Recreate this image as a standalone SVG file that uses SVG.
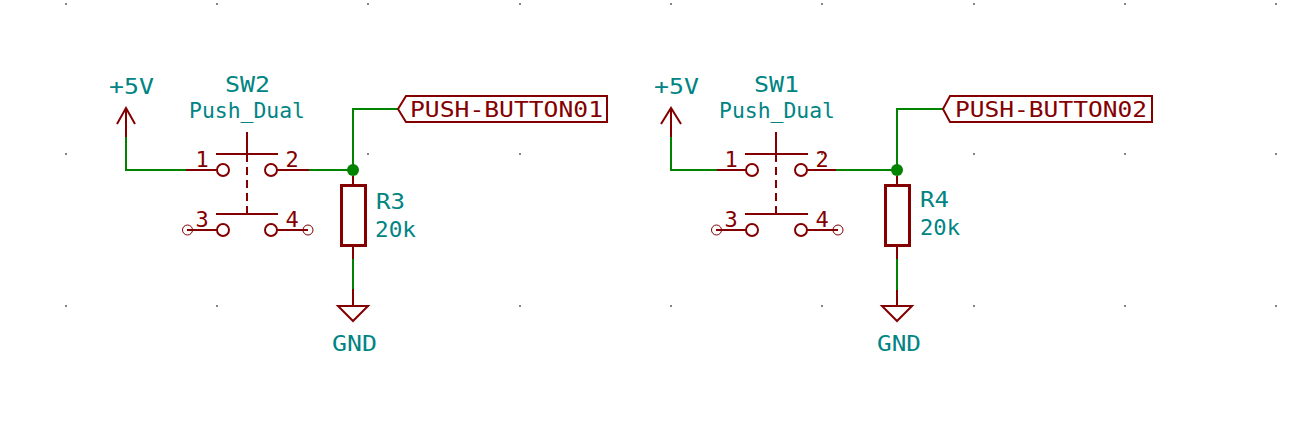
<svg xmlns="http://www.w3.org/2000/svg" width="1304" height="426" viewBox="0 0 1304 426">
<style>
text{font-family:"DejaVu Sans Mono","Liberation Mono",monospace;font-size:22px}
.t{fill:#008484}
.r{fill:#840000}
.m{text-anchor:middle}
.l{fill:none;stroke:#840000;stroke-width:2;shape-rendering:crispEdges}
.g{fill:none;stroke:#840000;stroke-width:2}
.thin{fill:none;stroke:#840000;stroke-width:1}
.b{fill:none;stroke:#840000;stroke-width:3;shape-rendering:crispEdges}
.w{fill:none;stroke:#008400;stroke-width:2;shape-rendering:crispEdges}
.d{stroke-dasharray:8 5}
.dot{fill:#848484}
</style>
<rect width="1304" height="426" fill="#ffffff"/>
<g id="grid" class="dot">
<rect x="65" y="3" width="2" height="2"/><rect x="216" y="3" width="2" height="2"/><rect x="367" y="3" width="2" height="2"/><rect x="519" y="3" width="2" height="2"/><rect x="670" y="3" width="2" height="2"/><rect x="821" y="3" width="2" height="2"/><rect x="973" y="3" width="2" height="2"/><rect x="1124" y="3" width="2" height="2"/><rect x="1275" y="3" width="2" height="2"/>
<rect x="65" y="153" width="2" height="2"/><rect x="216" y="153" width="2" height="2"/><rect x="367" y="153" width="2" height="2"/><rect x="519" y="153" width="2" height="2"/><rect x="670" y="153" width="2" height="2"/><rect x="821" y="153" width="2" height="2"/><rect x="973" y="153" width="2" height="2"/><rect x="1124" y="153" width="2" height="2"/><rect x="1275" y="153" width="2" height="2"/>
<rect x="65" y="305" width="2" height="2"/><rect x="216" y="305" width="2" height="2"/><rect x="367" y="305" width="2" height="2"/><rect x="519" y="305" width="2" height="2"/><rect x="670" y="305" width="2" height="2"/><rect x="821" y="305" width="2" height="2"/><rect x="973" y="305" width="2" height="2"/><rect x="1124" y="305" width="2" height="2"/><rect x="1275" y="305" width="2" height="2"/>
</g>
<g id="connectors">
<path class="w" d="M126 137V170H186"/>
<path class="w" d="M309 170H353"/>
<path class="w" d="M398 109H353V170"/>
<path class="w" d="M353 259V289"/>
<path class="w" d="M671 137V170H717"/>
<path class="w" d="M836 170H897"/>
<path class="w" d="M943 109H897V170"/>
<path class="w" d="M897 259V290"/>
<circle cx="353" cy="170" r="6" fill="#008400"/>
<circle cx="897" cy="170" r="6" fill="#008400"/>
</g>
<g id="pwr-5v-1">
<path class="l" d="M126 137V108"/><path class="g" d="M117 124L126 108L135 124"/>
<text class="t" x="109" y="94" textLength="45" lengthAdjust="spacingAndGlyphs">+5V</text>
</g>
<g id="pwr-5v-2">
<path class="l" d="M671 137V108"/><path class="g" d="M661 124L671 108L681 124"/>
<text class="t" x="654" y="94" textLength="45" lengthAdjust="spacingAndGlyphs">+5V</text>
</g>
<g id="SW2">
<text class="t" x="225" y="92" textLength="45" lengthAdjust="spacingAndGlyphs">SW2</text>
<text class="t" x="189" y="118" textLength="116" lengthAdjust="spacingAndGlyphs">Push_Dual</text>
<path class="l" d="M186 170H217M277 170H309M187 230H217M277 230H308M216 154H278M216 214H278M247 132V154"/>
<path class="l d" d="M247 154V214"/>
<circle class="g" cx="223" cy="170" r="6"/><circle class="g" cx="271" cy="170" r="6"/><circle class="g" cx="223" cy="230" r="6"/><circle class="g" cx="271" cy="230" r="6"/>
<circle class="thin" cx="187.500" cy="230" r="5"/><circle class="thin" cx="308" cy="230" r="5"/>
<text class="r m" x="202" y="167">1</text><text class="r m" x="292" y="167">2</text><text class="r m" x="202" y="227">3</text><text class="r m" x="292" y="227">4</text>
</g>
<g id="SW1">
<text class="t" x="754" y="92" textLength="45" lengthAdjust="spacingAndGlyphs">SW1</text>
<text class="t" x="719" y="118" textLength="116" lengthAdjust="spacingAndGlyphs">Push_Dual</text>
<path class="l" d="M717 170H746M807 170H836M716 230H746M807 230H838M745 154H808M745 214H808M776 132V154"/>
<path class="l d" d="M776 154V214"/>
<circle class="g" cx="752" cy="170" r="6"/><circle class="g" cx="801" cy="170" r="6"/><circle class="g" cx="752" cy="230" r="6"/><circle class="g" cx="801" cy="230" r="6"/>
<circle class="thin" cx="716.500" cy="230" r="5"/><circle class="thin" cx="838" cy="230" r="5"/>
<text class="r m" x="731" y="167">1</text><text class="r m" x="822" y="167">2</text><text class="r m" x="731" y="227">3</text><text class="r m" x="822" y="227">4</text>
</g>
<g id="R3">
<path class="l" d="M353 176V185M353 246V259"/><rect class="b" x="341.500" y="185" width="24" height="60"/>
<text class="t" x="376" y="209" textLength="29" lengthAdjust="spacingAndGlyphs">R3</text>
<text class="t" x="375" y="237" textLength="41" lengthAdjust="spacingAndGlyphs">20k</text>
</g>
<g id="R4">
<path class="l" d="M897 176V185M897 246V259"/><rect class="b" x="885.500" y="185" width="24" height="60"/>
<text class="t" x="920" y="207" textLength="29" lengthAdjust="spacingAndGlyphs">R4</text>
<text class="t" x="920" y="235" textLength="40" lengthAdjust="spacingAndGlyphs">20k</text>
</g>
<g id="gnd-1">
<path class="l" d="M353 289V306"/><path class="g" d="M338 306H368L353 321Z"/>
<text class="t" x="332" y="351" textLength="45" lengthAdjust="spacingAndGlyphs">GND</text>
</g>
<g id="gnd-2">
<path class="l" d="M897 290V306"/><path class="g" d="M882 306H912L897 321Z"/>
<text class="t" x="877" y="351" textLength="44" lengthAdjust="spacingAndGlyphs">GND</text>
</g>
<g id="label-push-button01">
<path class="g" d="M398 109L406 96H607V122H406Z"/>
<text class="r" x="410" y="117" textLength="193" lengthAdjust="spacingAndGlyphs">PUSH-BUTTON01</text>
</g>
<g id="label-push-button02">
<path class="g" d="M943 109L950 96H1152V122H950Z"/>
<text class="r" x="955" y="117" textLength="192" lengthAdjust="spacingAndGlyphs">PUSH-BUTTON02</text>
</g>
</svg>
